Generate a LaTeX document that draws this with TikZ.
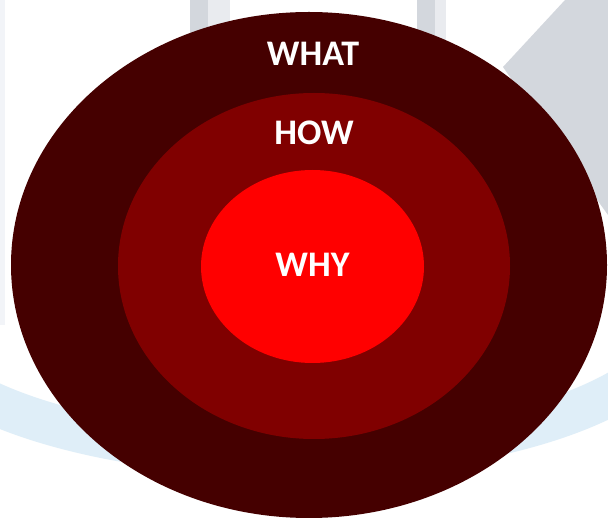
\documentclass[tikz,border=0pt]{standalone}
\usepackage{fontspec}
\setmainfont{Carlito}
\definecolor{outerc}{HTML}{450000}
\definecolor{midc}{HTML}{800000}
\definecolor{innerc}{HTML}{FF0000}
\definecolor{wmgray}{HTML}{D3D7DD}
\definecolor{wmlight}{HTML}{E9EBEF}
\definecolor{wmblue}{HTML}{DFEEF8}
\definecolor{wmstrip}{HTML}{F2F4F8}
\tikzset{
  ring/.style={ellipse, draw=none, inner sep=0pt},
  lbl/.style={text=white, font=\bfseries\fontsize{36}{40}\selectfont, inner sep=0pt, anchor=base}
}
\usetikzlibrary{shapes.geometric}
\begin{document}
\begin{tikzpicture}[x=1pt,y=-1pt]
\useasboundingbox (0,0) rectangle (608,518);
\fill[white] (0,0) rectangle (608,518);
% faint background watermark
\fill[wmstrip] (0,0) rectangle (5,325);
\fill[wmgray] (190,0) rectangle (208,80);
\fill[wmlight] (208,0) rectangle (230,80);
\fill[wmgray] (417,0) rectangle (435,80);
\fill[wmlight] (435,0) rectangle (446,80);
\fill[wmgray] (565,0) -- (608,0) -- (608,215) -- (540,120) -- (503,67) -- cycle;
\draw[wmblue, line width=42pt] (-10,402) .. controls (150,475) and (470,475) .. (620,390);
% rings
\node[ring, fill=outerc, minimum width=596pt, minimum height=506pt] (what) at (309,265) {};
\node[ring, fill=midc, minimum width=392pt, minimum height=346pt] (how) at (314,266) {};
\node[ring, fill=innerc, minimum width=223pt, minimum height=193pt] (why) at (312.5,266.5) {};
% labels
\node[lbl] (twhat) at (313,66) {WHAT};
\node[lbl] (thow) at (314,145) {HOW};
\node[lbl] (twhy) at (312.5,277) {WHY};
\end{tikzpicture}
\end{document}
